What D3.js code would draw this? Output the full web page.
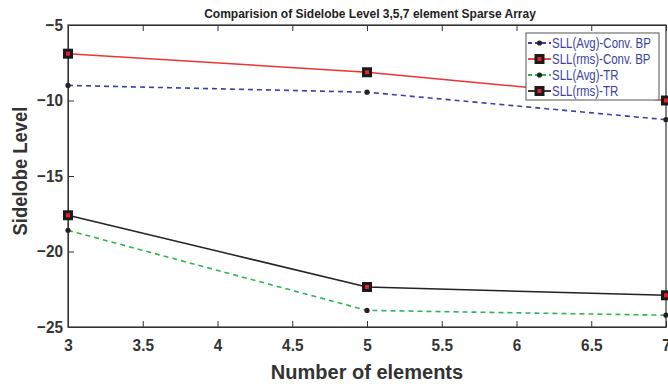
<!DOCTYPE html>
<html>
<head>
<meta charset="utf-8">
<script src="https://cdn.jsdelivr.net/npm/d3@7"></script>
<style>
  body { margin: 0; background: #fff; }
  svg { display: block; }
  text { font-family: "Liberation Sans Narrow", "Liberation Sans", Arial, sans-serif; }
</style>
</head>
<body>
<div id="chart"></div>
<script>
// number of elements in the sparse array
const elements = [3, 5, 7]

// sidelobe levels
const sllAvgConv = [-9.0, -9.45, -11.27]
const sllRmsConv = [-6.9, -8.13, -10.0]
const sllAvgTR = [-18.6, -23.9, -24.22]
const sllRmsTR = [-17.6, -22.35, -22.9]

const xTicks = [3, 3.5, 4, 4.5, 5, 5.5, 6, 6.5, 7]
const yTicks = [-5, -10, -15, -20, -25]

const W = 668
const H = 384
const margin = { top: 25, right: 2, bottom: 57, left: 68 }

const svg = d3
  .select('#chart')
  .append('svg')
  .attr('width', W)
  .attr('height', H)

const x = d3.scaleLinear().domain([3, 7]).range([margin.left, W - margin.right])
const y = d3.scaleLinear().domain([-25, -5]).range([H - margin.bottom, margin.top])

// squeeze text a bit, the original uses a narrow font
function narrow(sel, k) {
  sel.each(function () {
    const w = this.getComputedTextLength()
    d3.select(this).attr('textLength', w * k).attr('lengthAdjust', 'spacingAndGlyphs')
  })
}

// title
svg
  .append('text')
  .attr('x', 370)
  .attr('y', 18)
  .attr('text-anchor', 'middle')
  .attr('font-size', 12)
  .attr('font-weight', 'bold')
  .attr('fill', '#222')
  .text('Comparision of Sidelobe Level 3,5,7 element Sparse Array')

// axes, ticks pointing inward
const xAxis = svg
  .append('g')
  .attr('transform', 'translate(0,' + y(-25) + ')')
  .call(d3.axisBottom(x).tickValues(xTicks).tickSizeInner(-6).tickSizeOuter(0).tickPadding(12).tickFormat(d3.format('')))
xAxis.selectAll('text').attr('font-size', 17).attr('font-weight', 'bold').attr('fill', '#333')
narrow(xAxis.selectAll('text'), 0.9)

const yAxis = svg
  .append('g')
  .attr('transform', 'translate(' + x(3) + ',0)')
  .call(d3.axisLeft(y).tickValues(yTicks).tickSizeInner(-6).tickSizeOuter(0).tickPadding(5))
yAxis.selectAll('text').attr('font-size', 17).attr('font-weight', 'bold').attr('fill', '#333')
narrow(yAxis.selectAll('text'), 0.9)

// top ticks
svg
  .append('g')
  .attr('transform', 'translate(0,' + y(-5) + ')')
  .call(d3.axisTop(x).tickValues(xTicks).tickSizeInner(-6).tickSizeOuter(0).tickFormat(''))

svg.selectAll('.domain').attr('stroke', '#333')
svg.selectAll('.tick line').attr('stroke', '#333')

// frame
svg
  .append('rect')
  .attr('x', x(3))
  .attr('y', y(-5))
  .attr('width', x(7) - x(3))
  .attr('height', y(-25) - y(-5))
  .attr('fill', 'none')
  .attr('stroke', '#333')
  .attr('stroke-width', 1.2)

// axis labels
svg
  .append('text')
  .attr('x', (x(3) + x(7)) / 2)
  .attr('y', 379)
  .attr('text-anchor', 'middle')
  .attr('font-size', 20)
  .attr('font-weight', 'bold')
  .attr('fill', '#333')
  .text('Number of elements')

const yTitle = svg
  .append('text')
  .attr('transform', 'translate(27,' + (y(-15) - 5) + ') rotate(-90)')
  .attr('text-anchor', 'middle')
  .attr('font-size', 20)
  .attr('font-weight', 'bold')
  .attr('fill', '#333')
  .text('Sidelobe Level')
narrow(yTitle, 0.92)

const series = [
  { name: 'SLL(Avg)-Conv. BP', values: sllAvgConv, color: '#3b3fa6', dash: '5,4', marker: 'dot' },
  { name: 'SLL(rms)-Conv. BP', values: sllRmsConv, color: '#ee3333', dash: null, marker: 'square' },
  { name: 'SLL(Avg)-TR', values: sllAvgTR, color: '#2db551', dash: '5,4', marker: 'dot' },
  { name: 'SLL(rms)-TR', values: sllRmsTR, color: '#222222', dash: null, marker: 'square' },
]

const line = d3
  .line()
  .x((d, i) => x(elements[i]))
  .y((d) => y(d))

function drawMarker(g, cx, cy, type) {
  if (type === 'square') {
    g.append('rect')
      .attr('x', cx - 5)
      .attr('y', cy - 5)
      .attr('width', 10)
      .attr('height', 10)
      .attr('fill', '#1a1a1a')
    g.append('rect')
      .attr('x', cx - 2)
      .attr('y', cy - 2)
      .attr('width', 4)
      .attr('height', 4)
      .attr('fill', '#e8202a')
  } else {
    g.append('circle').attr('cx', cx).attr('cy', cy).attr('r', 2.6).attr('fill', '#222')
  }
}

const plot = svg.append('g')
series.forEach((s) => {
  plot
    .append('path')
    .datum(s.values)
    .attr('d', line)
    .attr('fill', 'none')
    .attr('stroke', s.color)
    .attr('stroke-width', s.dash ? 1.6 : 1.5)
    .attr('stroke-dasharray', s.dash)
  s.values.forEach((v, i) => drawMarker(plot, x(elements[i]), y(v), s.marker))
})

// legend
const legend = svg.append('g').attr('transform', 'translate(526,33)')
legend
  .append('rect')
  .attr('width', 133)
  .attr('height', 67)
  .attr('fill', '#fff')
  .attr('stroke', '#555')
  .attr('stroke-width', 1)

series.forEach((s, i) => {
  const ly = 10 + i * 16
  legend
    .append('line')
    .attr('x1', 2)
    .attr('x2', 25)
    .attr('y1', ly)
    .attr('y2', ly)
    .attr('stroke', s.color)
    .attr('stroke-width', 1.8)
    .attr('stroke-dasharray', s.dash ? '4,3' : null)
  drawMarker(legend, 13.5, ly, s.marker)
  const t = legend
    .append('text')
    .attr('x', 26)
    .attr('y', ly + 5)
    .attr('font-size', 14.5)
    .attr('fill', '#3b3f9e')
    .text(s.name)
  narrow(t, 0.79)
})
</script>
</body>
</html>
